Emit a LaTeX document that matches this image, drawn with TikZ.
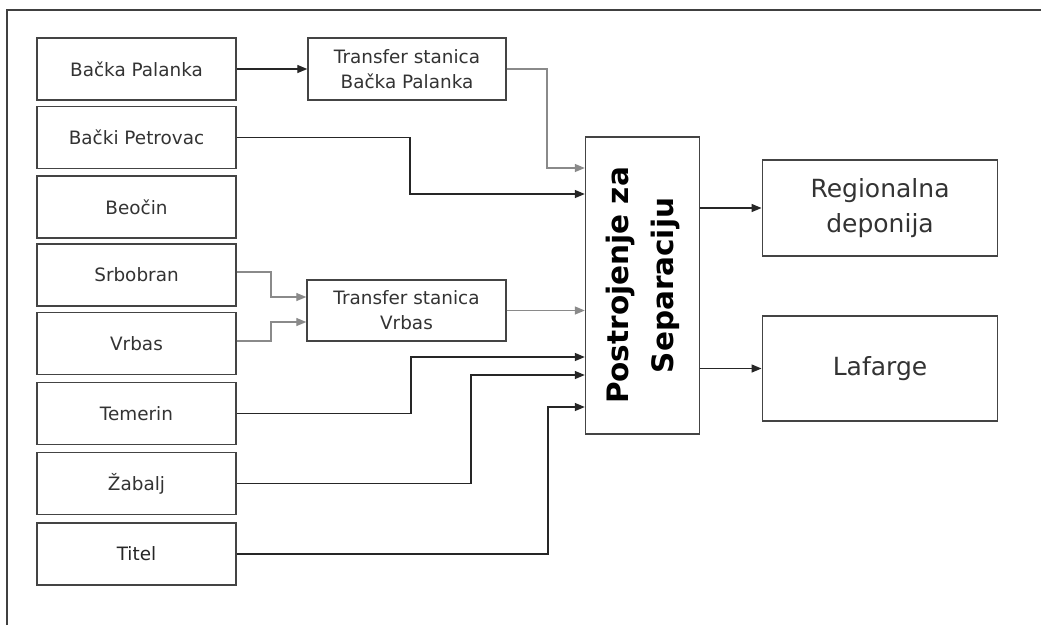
\documentclass[tikz,border=0pt]{standalone}
\usepackage{fontspec}
\setmainfont{DejaVu Sans}
\usetikzlibrary{arrows.meta}
\definecolor{txt}{HTML}{333333}
\definecolor{bord}{HTML}{444444}
\definecolor{lgray}{HTML}{8A8A8A}
\tikzset{
  box/.style={draw=bord, line width=1.4pt, rectangle, inner sep=0pt, align=center, text=txt,
              font=\fontsize{18.4}{25}\selectfont},
  lbox/.style={box, minimum width=199pt, minimum height=62pt},
  bigbox/.style={box, minimum width=235.5pt, font=\fontsize{25}{35}\selectfont},
  arr/.style={line width=1.3pt, draw=black!85, -{Triangle[length=10pt,width=8pt]}},
  garr/.style={arr, draw=lgray},
}
\begin{document}
\begin{tikzpicture}[x=1pt,y=-1pt]
\useasboundingbox (0,0) rectangle (1041,625);
\fill[white] (0,0) rectangle (1041,625);
% outer frame (only top and left visible)
\draw[line width=2.4pt, draw=black!75] (7,625) -- (7,10) -- (1041,10);

% left column
\node[lbox] (bp)  at (136.5,69)    {Bačka Palanka};
\node[lbox] (bpe) at (136.5,137.5) {Bački Petrovac};
\node[lbox] (beo) at (136.5,207)   {Beočin};
\node[lbox] (srb) at (136.5,275)   {Srbobran};
\node[lbox] (vrb) at (136.5,343.5) {Vrbas};
\node[lbox] (tem) at (136.5,413.5) {Temerin};
\node[lbox] (zab) at (136.5,483.5) {Žabalj};
\node[lbox, text=black!85] (tit) at (136.5,554) {Titel};

% transfer stations
\node[box, minimum width=198pt, minimum height=62pt] (tbp) at (407,69)
  {Transfer stanica\\Bačka Palanka};
\node[box, minimum width=199pt, minimum height=61pt] (tv) at (406.5,310.5)
  {Transfer stanica\\Vrbas};

% separation plant
\node[box, minimum width=114pt, minimum height=297pt] (sep) at (642.5,285.5) {};
\node[rotate=90, align=center, text=black, font=\fontsize{29.5}{45}\bfseries\selectfont]
  (septxt) at (sep.center) {Postrojenje za\\Separaciju};

% destinations
\node[bigbox, minimum height=96pt] (reg) at (880,208) {Regionalna\\deponija};
\node[bigbox, minimum height=105pt] (laf) at (880,368.5) {Lafarge};

% input points on separation box
\coordinate (i1) at (sep.west |- 0,168);
\coordinate (i2) at (sep.west |- 0,194);
\coordinate (i4) at (sep.west |- 0,357);
\coordinate (i5) at (sep.west |- 0,375);
\coordinate (i6) at (sep.west |- 0,407);

% connectors
\draw[arr] (bp.east) -- (tbp.west);
\draw[garr] (tbp.east) -| (547,168) -- (i1);
\draw[arr] (bpe.east) -| (410,194) -- (i2);
\draw[garr] ([yshift=3pt]srb.east) -| (271,297) -- ([yshift=13.5pt]tv.west);
\draw[garr] ([yshift=2.5pt]vrb.east) -| (271,322) -- ([yshift=-11.5pt]tv.west);
\draw[garr] (tv.east) -- (tv.east -| sep.west);
\draw[arr] (tem.east) -| (411,357) -- (i4);
\draw[arr] (zab.east) -| (471,375) -- (i5);
\draw[arr] (tit.east) -| (548,407) -- (i6);
\draw[arr] (sep.east |- reg.west) -- (reg.west);
\draw[arr] (sep.east |- laf.west) -- (laf.west);
\end{tikzpicture}
\end{document}
